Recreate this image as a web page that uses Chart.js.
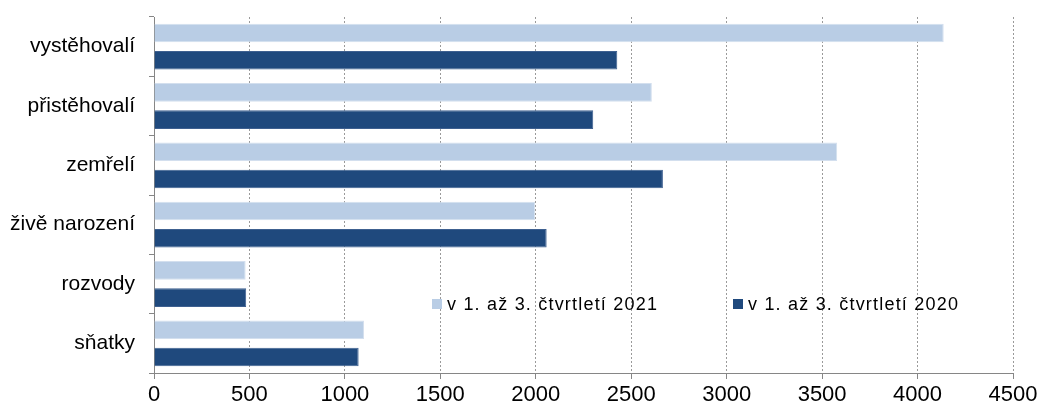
<!DOCTYPE html>
<html>
<head>
<meta charset="utf-8">
<script src="https://cdn.jsdelivr.net/npm/chart.js@4.4.1/dist/chart.umd.min.js"></script>
<style>
  html, body { margin: 0; padding: 0; background: #ffffff; }
  #wrap { width: 1040px; height: 401px; position: relative; }
</style>
</head>
<body>
<div id="wrap"><canvas id="c"></canvas></div>
<script>
const categories = ['vystěhovalí', 'přistěhovalí', 'zemřelí', 'živě narození', 'rozvody', 'sňatky'];
const values2021 = [4137, 2608, 3579, 1997, 480, 1100];
const values2020 = [2427, 2301, 2666, 2057, 483, 1072];
const seriesNames = ['v 1. až 3. čtvrtletí 2021', 'v 1. až 3. čtvrtletí 2020'];
const xMin = 0, xMax = 4500, xStep = 500;

const FONT = '"Liberation Sans", Arial, sans-serif';
const LIGHT = '#B9CDE5';
const DARK = '#1F497D';

const legendPlugin = {
  id: 'insideLegend',
  afterDatasetsDraw(chart) {
    const ctx = chart.ctx;
    const items = [
      { x: 432, color: chart.data.datasets[0].backgroundColor, text: chart.data.datasets[0].label },
      { x: 733, color: chart.data.datasets[1].backgroundColor, text: chart.data.datasets[1].label }
    ];
    ctx.save();
    ctx.font = '18px ' + FONT;
    ctx.textBaseline = 'middle';
    ctx.textAlign = 'left';
    try { ctx.letterSpacing = '1.2px'; } catch (e) {}
    items.forEach(it => {
      ctx.fillStyle = it.color;
      ctx.fillRect(it.x, 299, 10, 10);
      ctx.fillStyle = '#000000';
      ctx.fillText(it.text, it.x + 15, 305);
    });
    ctx.restore();
  }
};

new Chart(document.getElementById('c'), {
  type: 'bar',
  data: {
    labels: categories,
    datasets: [
      {
        label: seriesNames[0],
        data: values2021,
        backgroundColor: LIGHT,
        borderColor: '#D3DFEE',
        borderWidth: 1,
        categoryPercentage: 0.92,
        barPercentage: 0.68
      },
      {
        label: seriesNames[1],
        data: values2020,
        backgroundColor: DARK,
        borderColor: '#3E6090',
        borderWidth: 1,
        categoryPercentage: 0.92,
        barPercentage: 0.68
      }
    ]
  },
  options: {
    indexAxis: 'y',
    responsive: true,
    maintainAspectRatio: false,
    animation: false,
    layout: { padding: { top: 17, right: 27, left: 0, bottom: 0 } },
    plugins: {
      legend: { display: false },
      tooltip: { enabled: false }
    },
    scales: {
      x: {
        type: 'linear',
        min: xMin,
        max: xMax,
        ticks: {
          stepSize: xStep,
          color: '#000000',
          font: { family: FONT, size: 22 },
          padding: 3,
          maxRotation: 0,
          callback: (v) => String(v)
        },
        grid: {
          color: '#9a9a9a',
          lineWidth: 1,
          tickLength: 6,
          tickColor: '#868686',
          tickBorderDash: []
        },
        border: { color: '#868686', width: 1, dash: [2, 2] },
        afterFit(scale) {
          scale.height = 28;
          scale.paddingLeft = 0; scale.paddingRight = 0;
          scale.paddingTop = 0; scale.paddingBottom = 0;
        }
      },
      y: {
        type: 'category',
        ticks: {
          color: '#000000',
          font: { family: FONT, size: 21 },
          padding: 14
        },
        grid: {
          drawOnChartArea: false,
          tickLength: 5,
          color: '#868686',
          offset: true
        },
        border: { color: '#868686', width: 1 },
        afterFit(scale) {
          scale.width = 154;
          scale.paddingTop = 0; scale.paddingBottom = 0;
          scale.paddingLeft = 0; scale.paddingRight = 0;
        }
      }
    }
  },
  plugins: [legendPlugin]
});
</script>
</body>
</html>
